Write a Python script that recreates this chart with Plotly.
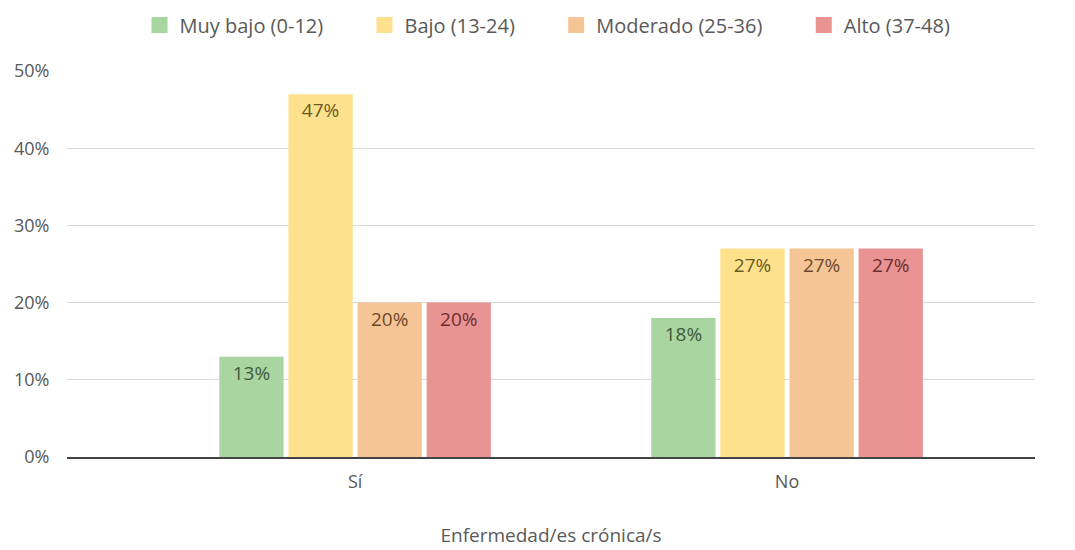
import plotly.graph_objects as go

# Chronic illness groups on the x axis
categories = ["Sí", "No"]

# Share of respondents per score band (percent)
series_names = ["Muy bajo (0-12)", "Bajo (13-24)", "Moderado (25-36)", "Alto (37-48)"]
muy_bajo = [13, 18]
bajo = [47, 27]
moderado = [20, 27]
alto = [20, 27]
values = [muy_bajo, bajo, moderado, alto]

y_ticks = [0, 10, 20, 30, 40, 50]
y_tick_labels = ["0%", "10%", "20%", "30%", "40%", "50%"]

bar_colors = ["#a8d5a0", "#fde18d", "#f6c596", "#e99393"]
text_colors = ["#3f5a3c", "#6a5a22", "#6e4a2a", "#6e2e2e"]

FONT = "'Open Sans', sans-serif"
GREY = "#595959"
PAD = "\u00a0" * 7  # extra room between legend entries

fig = go.Figure()
for name, vals, col, tcol in zip(series_names, values, bar_colors, text_colors):
    fig.add_trace(go.Bar(
        name=name,
        x=categories,
        y=vals,
        showlegend=False,
        legendgroup=name,
        marker=dict(color=col, line=dict(width=0)),
        text=[f"{v}%" for v in vals],
        textposition="inside",
        insidetextanchor="end",
        textangle=0,
        textfont=dict(family=FONT, size=19, color=tcol),
        hovertemplate="%{x}: %{y}%<extra>" + name + "</extra>",
    ))

# Legend keys with larger square swatches
for name, col in zip(series_names, bar_colors):
    fig.add_trace(go.Scatter(
        name=name + PAD,
        x=[None],
        y=[None],
        mode="markers",
        legendgroup=name,
        marker=dict(symbol="square", size=16, color=col),
        hoverinfo="skip",
    ))

fig.update_layout(
    width=1075,
    height=550,
    margin=dict(l=67, r=40, t=71, b=93, autoexpand=False),
    paper_bgcolor="white",
    plot_bgcolor="white",
    barmode="group",
    bargap=0.36,
    bargroupgap=0.07,
    font=dict(family=FONT, size=18, color=GREY),
    showlegend=True,
    legend=dict(
        orientation="h",
        x=0.515,
        xanchor="center",
        y=0.99,
        yref="container",
        yanchor="top",
        font=dict(family=FONT, size=20, color=GREY),
        itemsizing="trace",
    ),
    xaxis=dict(
        range=[-0.667, 1.574],
        automargin=False,
        showgrid=False,
        showline=True,
        linecolor="#444444",
        linewidth=1.5,
        ticks="outside",
        ticklen=8,
        tickcolor="rgba(0,0,0,0)",
        tickfont=dict(family=FONT, size=18, color=GREY),
        title=dict(text="Enfermedad/es crónica/s",
                   font=dict(family=FONT, size=19, color=GREY),
                   standoff=36),
    ),
    yaxis=dict(
        range=[0, 50],
        automargin=False,
        tickvals=y_ticks,
        ticktext=y_tick_labels,
        showgrid=True,
        gridcolor="#d9d9d9",
        gridwidth=1,
        zeroline=False,
        showline=False,
        ticks="outside",
        ticklen=13,
        tickcolor="rgba(0,0,0,0)",
        tickfont=dict(family=FONT, size=18, color=GREY),
    ),
)

fig.write_html("out.html")
